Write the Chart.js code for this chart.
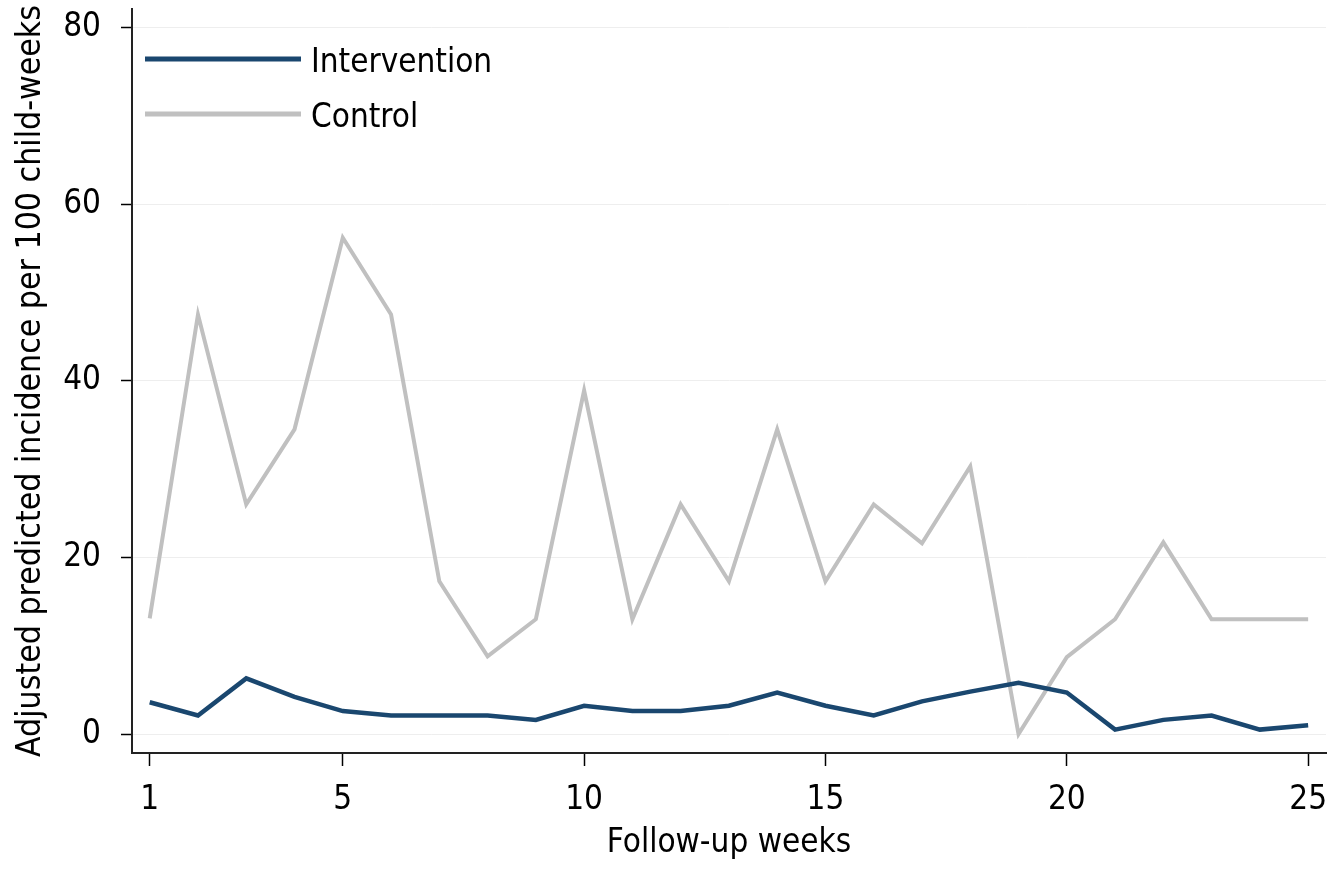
<!DOCTYPE html>
<html>
<head>
<meta charset="utf-8">
<script src="https://cdn.jsdelivr.net/npm/chart.js@4/dist/chart.umd.min.js"></script>
<style>
  html, body { margin: 0; padding: 0; background: #fff; }
  canvas { display: block; }
</style>
</head>
<body>
<canvas id="incChart" width="1333" height="880"></canvas>
<script>
const weeks = [1,2,3,4,5,6,7,8,9,10,11,12,13,14,15,16,17,18,19,20,21,22,23,24,25];
const intervention = [3.6,2.1,6.3,4.2,2.6,2.1,2.1,2.1,1.6,3.2,2.6,2.6,3.2,4.7,3.2,2.1,3.7,4.8,5.8,4.7,0.5,1.6,2.1,0.5,1.0];
const control = [13.1,47.5,26.0,34.5,56.2,47.5,17.3,8.8,13.0,38.9,13.0,26.0,17.3,34.5,17.3,26.0,21.6,30.3,0,8.7,13.0,21.7,13.0,13.0,13.0];
const xTicks = [1,5,10,15,20,25];
const yTicks = [0,20,40,60,80];

const fontFam = '"DejaVu Sans Condensed", "DejaVu Sans", sans-serif';
const fontSize = 33;

// legend drawn inside the plot, top-left
const innerLegend = {
    id: 'innerLegend',
    afterDraw(chart) {
        const ctx = chart.ctx;
        const rows = [59, 114];
        ctx.save();
        chart.data.datasets.forEach(function(ds, i){
            ctx.strokeStyle = ds.borderColor;
            ctx.lineWidth = 5;
            ctx.beginPath();
            ctx.moveTo(145, rows[i]);
            ctx.lineTo(301, rows[i]);
            ctx.stroke();
            ctx.fillStyle = '#000';
            ctx.font = fontSize + 'px ' + fontFam;
            ctx.textBaseline = 'middle';
            ctx.fillText(ds.label, 311, rows[i] + 4);
        });
        ctx.restore();
    }
};

const chart = new Chart(document.getElementById('incChart'), {
    type: 'line',
    data: {
        datasets: [{
            label: 'Intervention',
            data: weeks.map((w, i) => ({x: w, y: intervention[i]})),
            borderColor: '#1a476f',
            borderWidth: 4.5,
            pointRadius: 0,
            tension: 0
        },
        {
            label: 'Control',
            data: weeks.map((w, i) => ({x: w, y: control[i]})),
            borderColor: '#c0c0c0',
            borderWidth: 4,
            pointRadius: 0,
            tension: 0
        }]
    },
    options: {
        responsive: false,
        animation: false,
        devicePixelRatio: 1,
        layout: { autoPadding: false, padding: { left: 0, right: 7, top: 9, bottom: 0 } },
        plugins: {
            legend: { display: false },
            tooltip: { enabled: false }
        },
        scales: {
            x: {
                type: 'linear',
                min: 0.633,
                max: 25.37,
                afterBuildTicks: function(scale){ scale.ticks = xTicks.map(v => ({value: v})); },
                afterFit: function(scale){
                    scale.height = 127;
                    scale.paddingLeft = 0;
                    scale.paddingRight = 0;
                },
                grid: { drawOnChartArea: false, tickLength: 13, tickColor: '#000', tickWidth: 1.5 },
                border: { color: '#222', width: 2 },
                ticks: { color: '#000', font: { family: fontFam, size: fontSize }, padding: 15, maxRotation: 0 },
                title: { display: true, text: 'Follow-up weeks', color: '#000', font: { family: fontFam, size: fontSize }, padding: { top: 0, bottom: 17 } }
            },
            y: {
                min: -2.15,
                max: 82.1,
                afterBuildTicks: function(scale){ scale.ticks = yTicks.map(v => ({value: v})); },
                afterFit: function(scale){
                    scale.width = 132;
                    scale.paddingTop = 0;
                    scale.paddingBottom = 0;
                },
                grid: { color: '#eeeeee', lineWidth: 1, tickLength: 11, tickColor: '#000', tickWidth: 1.5 },
                border: { color: '#222', width: 2 },
                ticks: { color: '#000', font: { family: fontFam, size: fontSize }, padding: 20 },
                title: { display: true, text: 'Adjusted predicted incidence per 100 child-weeks', color: '#000', font: { family: fontFam, size: 33.5 }, padding: { top: 11, bottom: 0 } }
            }
        }
    },
    plugins: [innerLegend]
});
</script>
</body>
</html>
